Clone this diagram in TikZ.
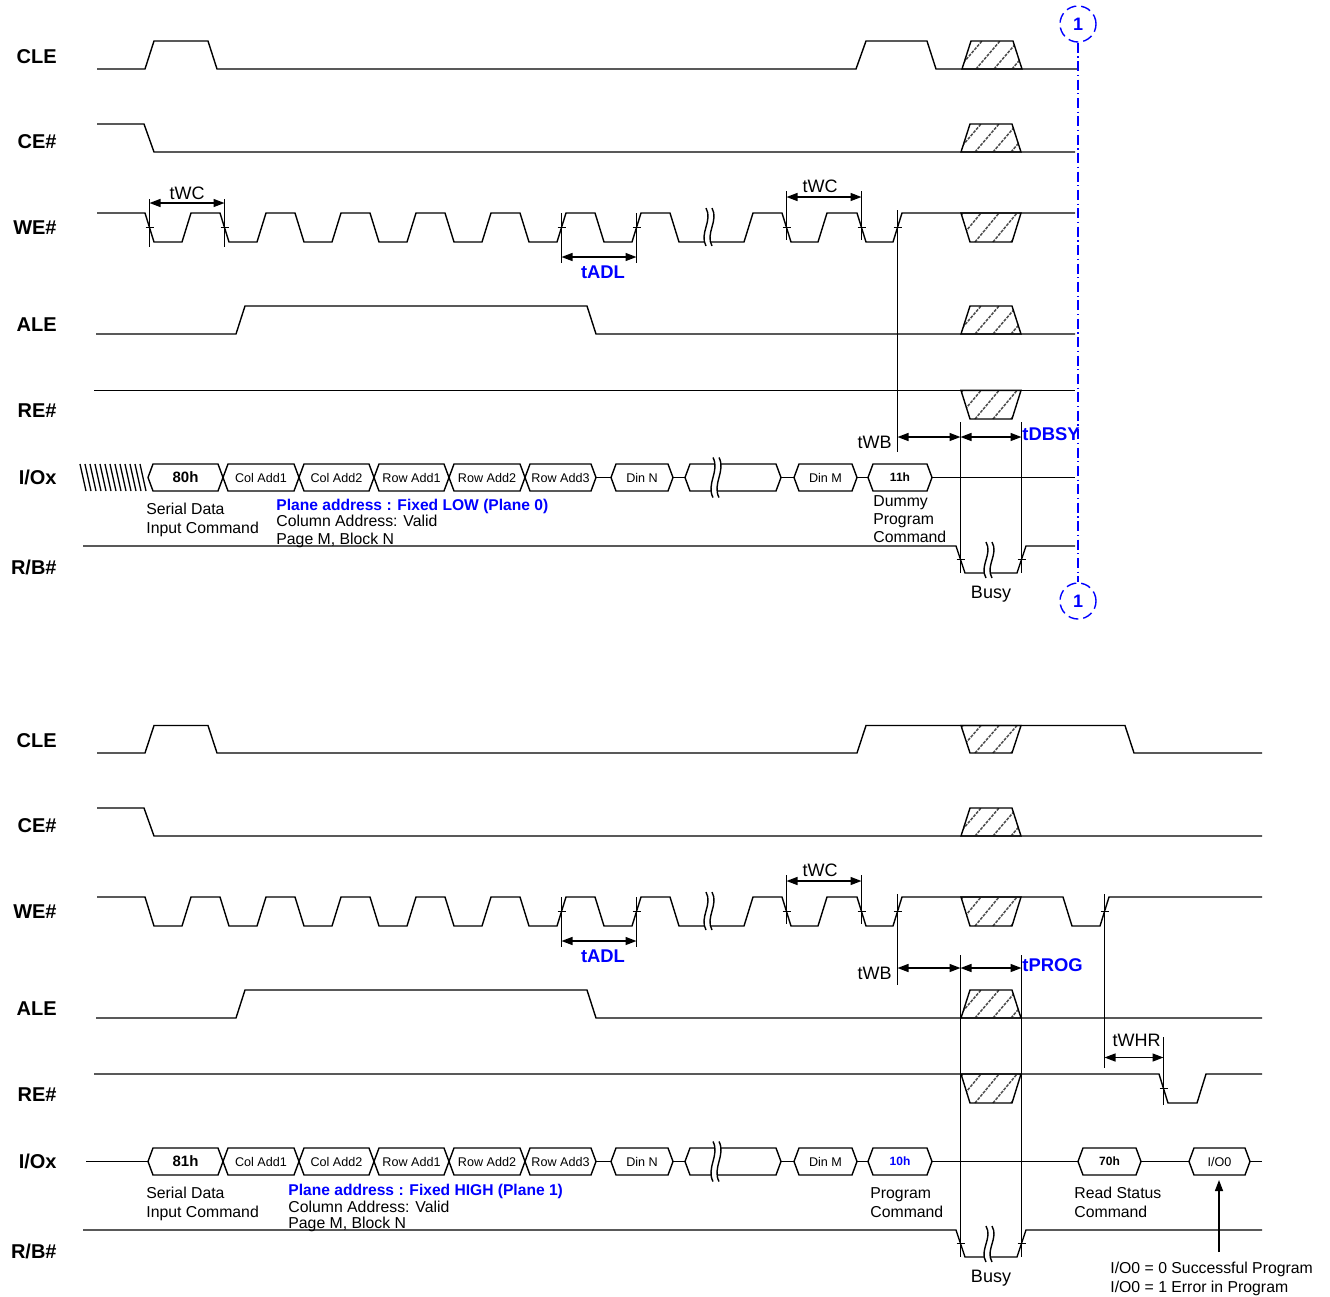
\documentclass[tikz,border=0pt]{standalone}
\usepackage{fontspec}
\setmainfont{Liberation Sans}
\usetikzlibrary{arrows.meta}

\newcommand\fsig{\fontsize{10}{12}\selectfont\bfseries}
\newcommand\ftim{\fontsize{9}{11}\selectfont}
\newcommand\ftimb{\fontsize{9.2}{11}\selectfont\bfseries}
\newcommand\fnote{\fontsize{7.9}{9.5}\selectfont}
\newcommand\fnoteb{\fontsize{7.8}{9.5}\selectfont\bfseries}
\newcommand\fcell{\fontsize{6.3}{7.5}\selectfont}
\newcommand\fcmdA{\fontsize{7.5}{9}\selectfont\bfseries}
\newcommand\fcmdB{\fontsize{6}{7}\selectfont\bfseries}

\newcommand\hexcell[4]{%
  \draw[sig] (#2,477.5) -- (#2+5,464) -- (#3-5,464) -- (#3,477.5) -- (#3-5,491) -- (#2+5,491) -- cycle;
  \coordinate (#1-l) at (#2,477.5);
  \coordinate (#1-r) at (#3,477.5);
  \node[inner sep=0] (#1) at ({(#2+#3)/2},477.5) {#4};}
\newcommand\tk[2]{\draw[sig] (#1-4,#2) -- (#1+4,#2);}
\newcommand\brk[3]{%
  \fill[white] (#1,#2-#3) .. controls (#1+7,#2-#3/3) and (#1-7,#2+#3/3) .. (#1,#2+#3)
     -- (#1+6,#2+#3) .. controls (#1-1,#2+#3/3) and (#1+13,#2-#3/3) .. (#1+6,#2-#3) -- cycle;
  \draw[sig] (#1,#2-#3) .. controls (#1+7,#2-#3/3) and (#1-7,#2+#3/3) .. (#1,#2+#3);
  \draw[sig] (#1+6,#2-#3) .. controls (#1+13,#2-#3/3) and (#1-1,#2+#3/3) .. (#1+6,#2+#3);}
\newcommand\hup[4]{%
  \begin{scope}
    \clip (#1,#4) -- (#1+9,#3) -- (#2-9,#3) -- (#2,#4) -- cycle;
    \foreach \h in {-22,-4,14,32,50,68} \draw[hatchl] (#1+\h,#4) -- (#1+\h+24,#3);
  \end{scope}
  \draw[sig] (#1,#4) -- (#1+9,#3) -- (#2-9,#3) -- (#2,#4) -- cycle;}
\newcommand\hdn[4]{%
  \begin{scope}
    \clip (#1,#3) -- (#1+9,#4) -- (#2-9,#4) -- (#2,#3) -- cycle;
    \foreach \h in {-22,-4,14,32,50,68} \draw[hatchl] (#1+\h,#4) -- (#1+\h+24,#3);
  \end{scope}
  \draw[sig] (#1,#3) -- (#1+9,#4) -- (#2-9,#4) -- (#2,#3) -- cycle;}

\begin{document}
\begin{tikzpicture}[x=0.5pt,y=-0.5pt,
  sig/.style={line width=0.7pt,line join=miter},
  hatchl/.style={line width=0.75pt,draw=black!70,dash pattern=on 1.5pt off 0.6pt},
  dimarr/.style={line width=0.7pt,{Triangle[length=5.5pt,width=4pt]}-{Triangle[length=5.5pt,width=4pt]}},
  uparr/.style={line width=0.7pt,-{Triangle[length=5.5pt,width=4pt]}},
  siglbl/.style={anchor=east,inner sep=0,font=\fsig},
  tim/.style={anchor=base,inner sep=0,font=\ftim},
  timb/.style={anchor=base west,inner sep=0,font=\ftimb,text=blue},
  note/.style={anchor=base west,inner sep=0,font=\fnote},
  noteb/.style={anchor=base west,inner sep=0,font=\fnoteb,text=blue},
  refc/.style={circle,draw=blue,dashed,dash pattern=on 5pt off 2.5pt,line width=0.7pt,minimum size=18pt,inner sep=0,text=blue,font=\fontsize{9}{10}\selectfont\bfseries},
  refl/.style={draw=blue,line width=0.6pt,dash pattern=on 5pt off 1.8pt on 0.6pt off 1.8pt}]
\useasboundingbox (0,0) rectangle (1330,1297);

%%%%%%%%%%%%%%%% TOP %%%%%%%%%%%%%%%%
\node[siglbl] (tlcle) at (57,57) {CLE};
\node[siglbl] (tlce) at (57,142) {CE\#};
\node[siglbl] (tlwe) at (57,228) {WE\#};
\node[siglbl] (tlale) at (57,325) {ALE};
\node[siglbl] (tlre) at (57,411) {RE\#};
\node[siglbl] (tlio) at (57,477) {I/Ox};
\node[siglbl] (tlrb) at (57,567) {R/B\#};

% CLE
\draw[sig] (97,69) -- (145,69) -- (154,41) -- (208,41) -- (217,69) -- (856,69) -- (866,41) -- (927,41) -- (936,69) -- (1078,69);
\hup{962}{1022}{41}{69}
% CE#
\draw[sig] (97,124) -- (144,124) -- (154,152) -- (1075,152);
\hup{961}{1021}{124}{152}
% WE#
\draw[sig] (97,213) \foreach \s in {145,220,...,595} { -- (\s,213) -- (\s+9,242) -- (\s+37,242) -- (\s+46,213) }
  -- (670,213) -- (679,242) -- (744,242) -- (753,213) -- (782,213) -- (791,242) -- (818,242) -- (827,213)
  -- (857,213) -- (866,242) -- (893,242) -- (902,213) -- (1075,213);
\hdn{961}{1021}{213}{242}
\brk{706}{227}{19}
\foreach \x in {149.5,224.5,561.5,636.5,786.5,861.5,897.5} {\tk{\x}{227.5}}
\draw[sig] (149.5,199) -- (149.5,247);
\draw[sig] (224.5,199) -- (224.5,247);
\draw[dimarr] (149.5,203) -- (224.5,203);
\node[tim] (ttwc1) at (187,199) {tWC};
\draw[sig] (561.5,213) -- (561.5,263);
\draw[sig] (636.5,213) -- (636.5,263);
\draw[dimarr] (561.5,257) -- (636.5,257);
\node[timb,anchor=base] (ttadl) at (603,278) {tADL};
\draw[sig] (786.5,191) -- (786.5,240);
\draw[sig] (861.5,191) -- (861.5,240);
\draw[dimarr] (786.5,197) -- (861.5,197);
\node[tim] (ttwc2) at (820,192) {tWC};
\draw[sig] (897.5,210) -- (897.5,452);
% ALE
\draw[sig] (96,334) -- (236,334) -- (245,306) -- (587,306) -- (596,334) -- (1075,334);
\hup{961}{1021}{306}{334}
% RE#
\draw[sig] (94,390.4) -- (1075,390.4);
\hdn{961}{1021}{390.4}{419}
% tWB / tDBSY
\draw[sig] (960.5,422) -- (960.5,573);
\draw[sig] (1021.5,422) -- (1021.5,573);
\draw[dimarr] (897.5,437) -- (960.5,437);
\draw[dimarr] (960.5,437) -- (1021.5,437);
\node[tim,anchor=base east] (ttwb) at (892,448) {tWB};
\node[timb] (ttdbsy) at (1022,440) {tDBSY};
% I/Ox
\foreach \x in {80,85,...,140} \draw[line width=0.65pt] (\x,464) -- (\x+6,491);
\hexcell{t80}{148}{223}{\fcmdA 80h}
\hexcell{tca1}{223}{299}{\fcell Col Add1}
\hexcell{tca2}{299}{374}{\fcell Col Add2}
\hexcell{tra1}{374}{449}{\fcell Row Add1}
\hexcell{tra2}{449}{525}{\fcell Row Add2}
\hexcell{tra3}{525}{596}{\fcell Row Add3}
\hexcell{tdinn}{611}{673}{\fcell Din N}
\hexcell{tgap}{685}{781}{}
\hexcell{tdinm}{794}{857}{\fcell Din M}
\hexcell{t11h}{868}{932}{\fcmdB 11h}
\brk{713}{477.5}{20}
\coordinate (tioend) at (1075,477.5);
\draw[sig] (tra3-r) -- (tdinn-l);
\draw[sig] (tdinn-r) -- (tgap-l);
\draw[sig] (tgap-r) -- (tdinm-l);
\draw[sig] (tdinm-r) -- (t11h-l);
\draw[sig] (t11h-r) -- (tioend);
\node[note] (tsd1) at (146,514) {Serial Data};
\node[note] (tsd2) at (146,533) {Input Command};
\node[noteb] (tpa) at (276,510.5) {Plane address : Fixed LOW (Plane 0)};
\node[note] (tca) at (276,526) {Column Address: Valid};
\node[note] (tpm) at (276,544) {Page M, Block N};
\node[note] (tdm1) at (873,506) {Dummy};
\node[note] (tdm2) at (873,524) {Program};
\node[note] (tdm3) at (873,542) {Command};
% R/B#
\draw[sig] (83,546) -- (956,546) -- (965,573) -- (1017,573) -- (1026,546) -- (1075,546);
\tk{960.5}{559.5}
\tk{1021.5}{559.5}
\brk{986}{560}{18}
\node[tim] (tbusy) at (991,598) {Busy};
% reference 1
\node[refc] (rc1) at (1078,24) {1};
\node[refc] (rc2) at (1078,601) {1};
\draw[refl] (rc1.south) -- (rc2.north);

%%%%%%%%%%%%%%%% BOTTOM %%%%%%%%%%%%%%%%
\begin{scope}[shift={(0,684)}]
\node[siglbl] (blcle) at (57,57) {CLE};
\node[siglbl] (blce) at (57,142) {CE\#};
\node[siglbl] (blwe) at (57,228) {WE\#};
\node[siglbl] (blale) at (57,325) {ALE};
\node[siglbl] (blre) at (57,411) {RE\#};
\node[siglbl] (blio) at (57,477) {I/Ox};
\node[siglbl] (blrb) at (57,567) {R/B\#};

% CLE
\draw[sig] (97,69) -- (145,69) -- (154,41.5) -- (208,41.5) -- (217,69) -- (857,69) -- (866,41.5) -- (1125,41.5) -- (1134,69) -- (1262,69);
\hdn{961}{1021}{41.5}{69}
% CE#
\draw[sig] (97,124) -- (144,124) -- (154,152) -- (1262,152);
\hup{961}{1021}{124}{152}
% WE#
\draw[sig] (97,213) \foreach \s in {145,220,...,595} { -- (\s,213) -- (\s+9,242) -- (\s+37,242) -- (\s+46,213) }
  -- (670,213) -- (679,242) -- (744,242) -- (753,213) -- (782,213) -- (791,242) -- (818,242) -- (827,213)
  -- (857,213) -- (866,242) -- (893,242) -- (902,213) -- (1063,213) -- (1072,242) -- (1100,242) -- (1109,213) -- (1262,213);
\hdn{961}{1021}{213}{242}
\brk{706}{227}{19}
\foreach \x in {561.5,636.5,786.5,861.5,897.5,1104.5} {\tk{\x}{227.5}}
\draw[sig] (561.5,213) -- (561.5,263);
\draw[sig] (636.5,213) -- (636.5,263);
\draw[dimarr] (561.5,257) -- (636.5,257);
\node[timb,anchor=base] (btadl) at (603,278) {tADL};
\draw[sig] (786.5,191) -- (786.5,240);
\draw[sig] (861.5,191) -- (861.5,240);
\draw[dimarr] (786.5,197) -- (861.5,197);
\node[tim] (btwc) at (820,192) {tWC};
\draw[sig] (897.5,210) -- (897.5,301);
\draw[sig] (1104.5,210) -- (1104.5,384);
% tWB / tPROG
\draw[sig] (960.5,271) -- (960.5,573);
\draw[sig] (1021.5,271) -- (1021.5,573);
\draw[dimarr] (897.5,284) -- (960.5,284);
\draw[dimarr] (960.5,284) -- (1021.5,284);
\node[tim,anchor=base east] (btwb) at (892,295) {tWB};
\node[timb] (btprog) at (1022,287) {tPROG};
% ALE
\draw[sig] (96,334) -- (236,334) -- (245,306) -- (587,306) -- (596,334) -- (1262,334);
\hup{961}{1021}{306}{334}
% RE#
\draw[sig] (94,390) -- (1159,390) -- (1168,419) -- (1197,419) -- (1206,390) -- (1262,390);
\hdn{961}{1021}{390}{419}
\tk{1163.5}{404.5}
\draw[sig] (1163.5,353) -- (1163.5,421);
\draw[dimarr] (1104.5,373.5) -- (1163.5,373.5);
\node[tim] (btwhr) at (1136.5,362) {tWHR};
% I/Ox
\coordinate (biostart) at (86,477.5);
\hexcell{b81}{148}{223}{\fcmdA 81h}
\hexcell{bca1}{223}{299}{\fcell Col Add1}
\hexcell{bca2}{299}{374}{\fcell Col Add2}
\hexcell{bra1}{374}{449}{\fcell Row Add1}
\hexcell{bra2}{449}{525}{\fcell Row Add2}
\hexcell{bra3}{525}{596}{\fcell Row Add3}
\hexcell{bdinn}{611}{673}{\fcell Din N}
\hexcell{bgap}{685}{781}{}
\hexcell{bdinm}{794}{857}{\fcell Din M}
\hexcell{b10h}{868}{932}{\fcmdB\color{blue}10h}
\hexcell{b70h}{1078}{1141}{\fcmdB 70h}
\hexcell{bio0}{1189}{1250}{\fcell I/O0}
\brk{713}{477.5}{20}
\coordinate (bioend) at (1262,477.5);
\draw[sig] (biostart) -- (b81-l);
\draw[sig] (bra3-r) -- (bdinn-l);
\draw[sig] (bdinn-r) -- (bgap-l);
\draw[sig] (bgap-r) -- (bdinm-l);
\draw[sig] (bdinm-r) -- (b10h-l);
\draw[sig] (b10h-r) -- (b70h-l);
\draw[sig] (b70h-r) -- (bio0-l);
\draw[sig] (bio0-r) -- (bioend);
\node[note] (bsd1) at (146,514) {Serial Data};
\node[note] (bsd2) at (146,533) {Input Command};
\node[noteb] (bpa) at (288,511) {Plane address : Fixed HIGH (Plane 1)};
\node[note] (bca) at (288,528) {Column Address: Valid};
\node[note] (bpm) at (288,544) {Page M, Block N};
\node[note] (bpc1) at (870,514) {Program};
\node[note] (bpc2) at (870,533) {Command};
\node[note] (brs1) at (1074,514) {Read Status};
\node[note] (brs2) at (1074,533) {Command};
\coordinate (barrfoot) at (1219,568);
\coordinate (barrtip) at (1219,496);
\draw[uparr] (barrfoot) -- (barrtip);
\node[note] (bres1) at (1110,589) {I/O0 = 0 Successful Program};
\node[note] (bres2) at (1110,608) {I/O0 = 1 Error in Program};
% R/B#
\draw[sig] (83,546) -- (956,546) -- (965,573) -- (1017,573) -- (1026,546) -- (1262,546);
\tk{960.5}{559.5}
\tk{1021.5}{559.5}
\brk{986}{560}{18}
\node[tim] (bbusy) at (991,598) {Busy};
\end{scope}
\end{tikzpicture}
\end{document}
